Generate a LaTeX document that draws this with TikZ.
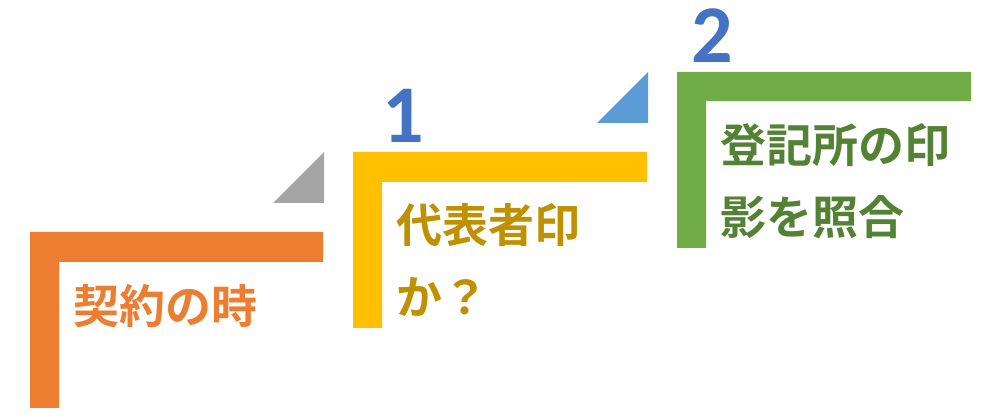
\documentclass[tikz,border=0pt]{standalone}
\usepackage{fontspec}
\newfontfamily\cjk{Noto Sans CJK JP}[BoldFont={* Bold}]
\newfontfamily\numfont{Carlito}
\definecolor{corange}{HTML}{ED7D31}
\definecolor{cyellow}{HTML}{FFC000}
\definecolor{cyellowtxt}{HTML}{BF9000}
\definecolor{cgreen}{HTML}{70AD47}
\definecolor{cgreentxt}{HTML}{548235}
\definecolor{cgray}{HTML}{A5A5A5}
\definecolor{cblue}{HTML}{5B9BD5}
\definecolor{cnum}{HTML}{4472C4}
\tikzset{
  steptext/.style={anchor=base west, inner sep=0pt, align=left, font=\cjk\bfseries\fontsize{46}{72}\selectfont},
  numtext/.style={anchor=base west, inner sep=0pt, text=cnum, font=\numfont\bfseries\fontsize{82}{82}\selectfont},
}
\begin{document}
\begin{tikzpicture}[x=1pt,y=-1pt]
\useasboundingbox (0,0) rectangle (988,419);
% step L-shapes
\fill[corange] (30,232) -- (323,232) -- (323,262) -- (59,262) -- (59,408) -- (30,408) -- cycle;
\fill[cyellow] (353,152) -- (647,152) -- (647,182) -- (382,182) -- (382,328) -- (353,328) -- cycle;
\fill[cgreen] (677,72) -- (971,72) -- (971,101) -- (706,101) -- (706,248) -- (677,248) -- cycle;
% triangles
\fill[cgray] (273,203) -- (324,203) -- (324,152) -- cycle;
\fill[cblue] (597,123) -- (648,123) -- (648,72) -- cycle;
% texts (base anchor = last line)
\node[steptext, text=corange] (t0) at (73,324) {契約の時};
\node[steptext, text=cyellowtxt] (t1) at (396,315) {代表者印\\か？};
\node[steptext, text=cgreentxt] (t2) at (720,235) {登記所の印\\影を照合};
\node[numtext] (n1) at (382,143) {1};
\node[numtext] (n2) at (691,63) {2};
\end{tikzpicture}
\end{document}
